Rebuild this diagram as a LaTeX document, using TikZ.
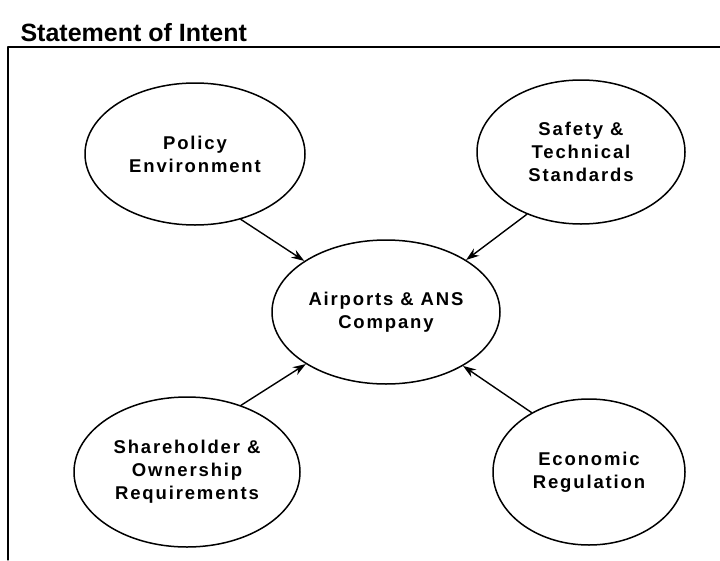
\documentclass[tikz,border=0pt]{standalone}
\usepackage{fontspec}
\setmainfont{Liberation Sans}
\newfontfamily\bubblefont[LetterSpace=10]{Liberation Sans}
\usetikzlibrary{shapes.geometric,arrows.meta}
\begin{document}
\begin{tikzpicture}[x=1pt,y=-1pt,>={Stealth[length=13pt,width=9pt]}, line join=round, line cap=round,
	bubble/.style={draw, ellipse, line width=1.5pt, inner sep=0pt, align=center,
		font=\bubblefont\bfseries\fontsize{18.5}{23}\selectfont,
		execute at begin node={\rule{0pt}{27pt}}}]
	\useasboundingbox (0,0) rectangle (720,560);
	% title and the open frame (top and left edge only)
	\node[anchor=base west, font=\bfseries\fontsize{25}{30}\selectfont] (title) at (17,41) {Statement of Intent};
	\draw[line width=1.2pt] (8,560)--(8,47)--(720,47);
	% the company and the four bodies around it
	\node[bubble, minimum width=228pt, minimum height=144pt] (hub) at (386,312) {Airports \& ANS\\Company};
	\node[bubble, minimum width=220pt, minimum height=142pt] (pol) at (195,154) {Policy\\Environment};
	\node[bubble, minimum width=208pt, minimum height=144pt] (saf) at (581,152) {Safety \&\\Technical\\Standards};
	\node[bubble, minimum width=226pt, minimum height=150pt] (own) at (187,472) {Shareholder \&\\Ownership\\Requirements};
	\node[bubble, minimum width=192pt, minimum height=146pt] (eco) at (589,472) {Economic\\Regulation};
	% influences
	\draw[->, line width=1.4pt] (pol.-55)--(hub.148);
	\draw[->, line width=1.4pt] (saf.-131)--(hub.33);
	\draw[->, line width=1.4pt] (own.51)--(hub.-147);
	\draw[->, line width=1.4pt] (eco.134)--(hub.-35);
\end{tikzpicture}
\end{document}
